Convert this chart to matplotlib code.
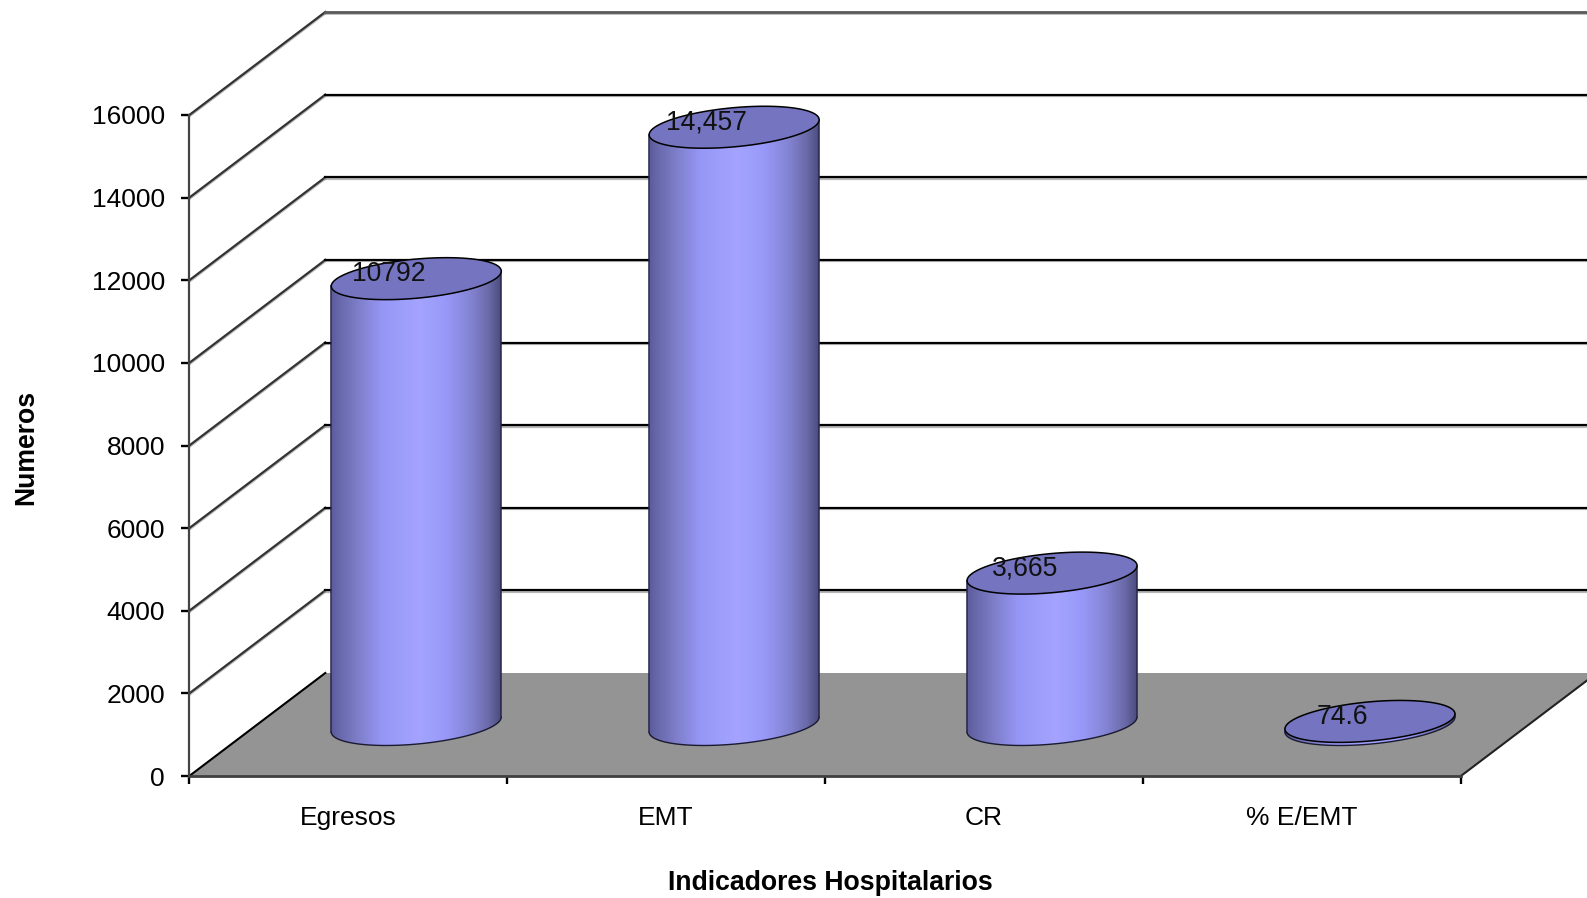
import numpy as np
import matplotlib
matplotlib.use("Agg")
import matplotlib.pyplot as plt
import matplotlib.patheffects as pe
from matplotlib.colors import LinearSegmentedColormap
from matplotlib.patches import Polygon

categories = ["Egresos", "EMT", "CR", "% E/EMT"]
values = [10792, 14457, 3665, 74.6]
value_labels = ["10792", "14,457", "3,665", "74.6"]
y_ticks = [0, 2000, 4000, 6000, 8000, 10000, 12000, 14000, 16000]

plt.rcParams["font.family"] = ["Liberation Sans", "DejaVu Sans"]

W, H = 1587, 898
left_px, floor_px = 189.3, 776.0
cat_px = 317.9               # pixels per category
val_px = 661.0 / 16000       # pixels per unit of value
depth_x = 136.0 / cat_px     # shift of the back wall, in categories
depth_y = 103.0 / val_px     # shift of the back wall, in values

fig = plt.figure(figsize=(W / 100, H / 100), dpi=100, facecolor="white")
ax = fig.add_axes([left_px / W, (H - floor_px) / H, 1 - left_px / W, floor_px / H])
ax.set_xlim(0, (W - left_px) / cat_px)
ax.set_ylim(0, floor_px / val_px)
x_max = ax.get_xlim()[1]

# floor
ax.add_patch(Polygon([(0, 0), (4, 0), (4 + depth_x, depth_y), (depth_x, depth_y)],
                     facecolor="#949494", edgecolor="none", zorder=1))
ax.plot([0, depth_x], [0, depth_y], color="black", lw=1.5, zorder=2)
ax.plot([4, 4 + depth_x], [0, depth_y], color="#222222", lw=1.5, zorder=2)

# gridlines on the side wall and the back wall
shadow = [pe.SimpleLineShadow(offset=(0, -1), shadow_color="#888888", alpha=0.6), pe.Normal()]
for v in y_ticks[1:]:
    c = "#5a5a5a" if v == 16000 else "black"
    lw = 2.0 if v == 16000 else 1.6
    ax.plot([0, depth_x], [v, v + depth_y], color="#333333", lw=1.6, zorder=2, path_effects=shadow)
    ax.plot([depth_x, x_max], [v + depth_y, v + depth_y], color=c, lw=lw, zorder=2, path_effects=shadow)

# cylinders
half_w = 85.0 / cat_px
tilt = 7.5 / val_px
rise = 19.6 / val_px
shade = LinearSegmentedColormap.from_list(
    "cyl",
    [(0.0, "#5c5c9c"), (0.06, "#6a6aae"), (0.16, "#7e7eca"), (0.3, "#9696f6"), (0.52, "#a4a4ff"),
     (0.68, "#9898f8"), (0.82, "#8484d4"), (0.93, "#6a6aa8"), (1.0, "#4c4c80")])
grad = np.linspace(0, 1, 256).reshape(1, -1)
t = np.linspace(0, 2 * np.pi, 200)

for i, (val, lab) in enumerate(zip(values, value_labels)):
    cx = i + 0.5 + depth_x / 2
    base = depth_y / 2
    top = base + val

    # lower half of the rim, running from the right side round to the left
    low = np.linspace(0, np.pi, 100)
    lx = cx + half_w * np.cos(low)
    ly_bottom = base + tilt * np.cos(low) - rise * np.sin(low)
    ly_top = top + tilt * np.cos(low) - rise * np.sin(low)

    body = Polygon(np.vstack([np.column_stack([lx, ly_bottom]),
                              np.column_stack([lx[::-1], ly_top[::-1]])]),
                   facecolor="none", edgecolor="none", zorder=3)
    ax.add_patch(body)
    im = ax.imshow(grad, cmap=shade, aspect="auto", zorder=3, interpolation="bilinear",
                   extent=(cx - half_w, cx + half_w, base - 2 * rise, top + 2 * rise))
    im.set_clip_path(body)

    ax.plot(lx, ly_bottom, color="#1a1a30", lw=1.0, zorder=4)
    ax.plot([cx - half_w] * 2, [ly_bottom[-1], ly_top[-1]], color="#25254a", lw=1.1, zorder=4)
    ax.plot([cx + half_w] * 2, [ly_bottom[0], ly_top[0]], color="#25254a", lw=1.1, zorder=4)

    ax.fill(cx + half_w * np.cos(t), top + tilt * np.cos(t) + rise * np.sin(t),
            facecolor="#7474c0", edgecolor="black", lw=1.1, zorder=5)
    ax.annotate(lab, (cx, top), xytext=(-19.7, 3.4), textcoords="offset points",
                ha="center", va="center", fontsize=19.1, color="#111111", zorder=6)

ax.set_xlim(0, x_max)
ax.set_ylim(0, floor_px / val_px)

# axes
for s in ["top", "right"]:
    ax.spines[s].set_visible(False)
ax.patch.set_visible(False)
ax.spines["left"].set_bounds(0, 16000)
ax.spines["left"].set_color("#444444")
ax.spines["left"].set_linewidth(1.6)
ax.spines["bottom"].set_bounds(0, 4)
ax.spines["bottom"].set_color("#404040")
ax.spines["bottom"].set_linewidth(2.0)

ax.set_yticks(y_ticks)
ax.set_yticklabels([str(v) for v in y_ticks], fontsize=19)
ax.tick_params(axis="y", length=5.5, width=1.7, color="black", pad=12)
ax.set_xticks(range(5))
ax.set_xticklabels([])
ax.tick_params(axis="x", which="major", length=5.5, width=1.7, color="black")
ax.set_xticks(np.arange(4) + 0.5, minor=True)
ax.set_xticklabels(categories, minor=True, fontsize=19)
ax.tick_params(axis="x", which="minor", length=0, pad=21.5)

fig.text(830 / W, 1 - 883 / H, "Indicadores Hospitalarios", fontsize=19.2, fontweight="bold",
         ha="center", va="center")
fig.text(26 / W, 1 - 447 / H, "Numeros", fontsize=19.2, fontweight="bold", rotation=90,
         ha="center", va="center")

fig.savefig("out.png", dpi=100, facecolor="white")
